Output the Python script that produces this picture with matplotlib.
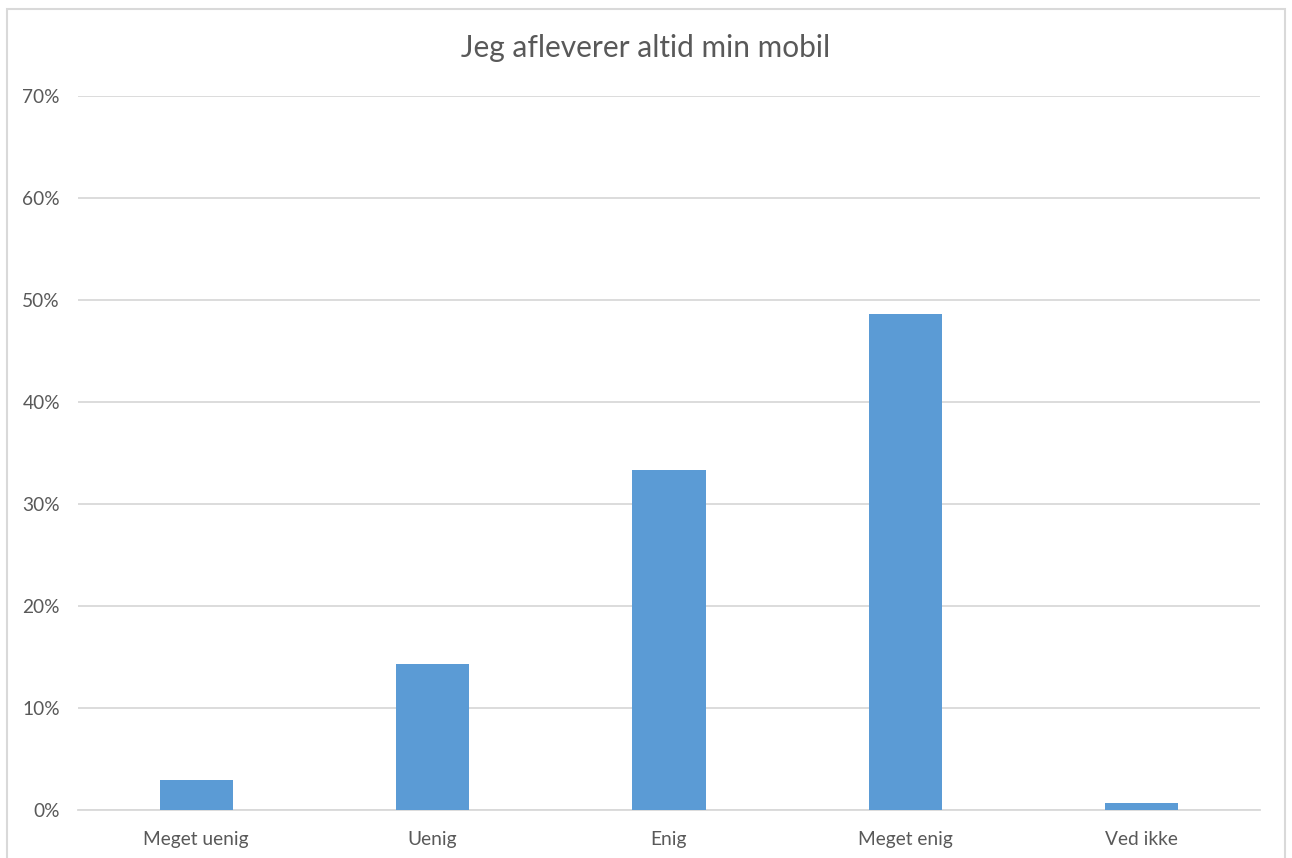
import matplotlib
matplotlib.use('Agg')
from matplotlib import pyplot as plt
from matplotlib.patches import Rectangle
from matplotlib.ticker import PercentFormatter

categories = ['Meget uenig', 'Uenig', 'Enig', 'Meget enig', 'Ved ikke']
values = [0.029, 0.143, 0.333, 0.486, 0.007]
yticks = [0, 0.1, 0.2, 0.3, 0.4, 0.5, 0.6, 0.7]
title = 'Jeg afleverer altid min mobil'

plt.rcParams['font.family'] = ['Lato', 'DejaVu Sans']

fig = plt.figure(figsize=(12.92, 8.58), dpi=100)
ax = fig.add_axes([78 / 1292, 1 - 810 / 858, (1260 - 78) / 1292, (810 - 96) / 858])

x = range(len(categories))
ax.bar(x, values, width=0.31, color='#5b9bd5', zorder=3)

ax.set_xlim(-0.5, len(categories) - 0.5)
ax.set_ylim(0, 0.7)
ax.set_yticks(yticks)
ax.yaxis.set_major_formatter(PercentFormatter(1.0, decimals=0))
ax.set_xticks(list(x))
ax.set_xticklabels(categories)
ax.grid(axis='y', color='#d9d9d9', linewidth=1.3, zorder=0)
for s in ['top', 'right', 'left']:
    ax.spines[s].set_visible(False)
ax.spines['bottom'].set_color('#d9d9d9')
ax.spines['bottom'].set_linewidth(1.3)
ax.tick_params(axis='both', length=0, labelsize=13.8, colors='#595959')
ax.tick_params(axis='y', pad=13)
ax.tick_params(axis='x', pad=15)

fig.text(0.5, 1 - 48 / 858, title, ha='center', va='center', fontsize=21.5, color='#595959')

# chart frame
fig.patches.append(Rectangle((7 / 1292, -0.01), (1285 - 7) / 1292, 1.01 - 9 / 858,
                             transform=fig.transFigure, fill=False,
                             edgecolor='#d9d9d9', linewidth=1.5))

fig.savefig('out.png', dpi=100)
